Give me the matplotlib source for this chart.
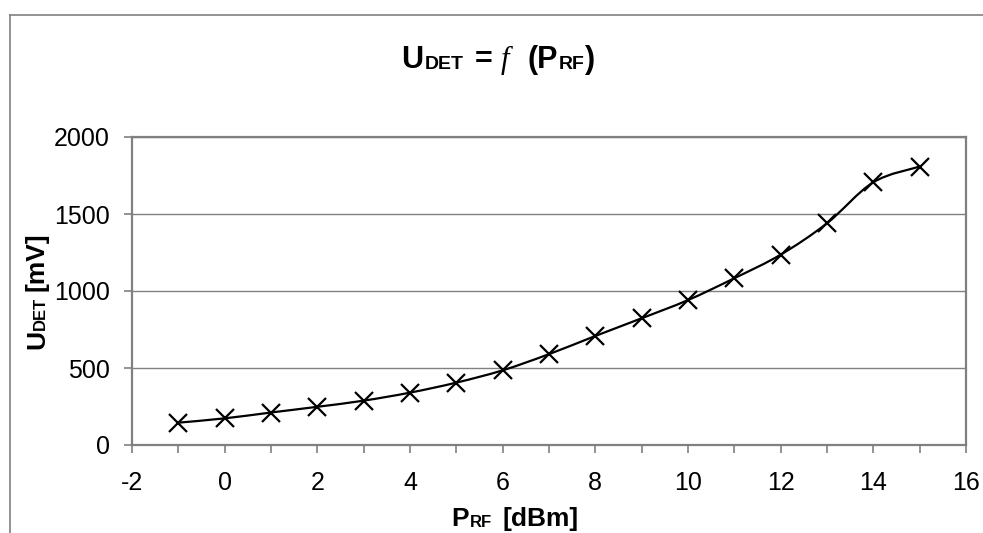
import numpy as np
import matplotlib
matplotlib.use("Agg")
import matplotlib.pyplot as plt
from matplotlib.path import Path
from matplotlib.patches import PathPatch
from matplotlib.transforms import IdentityTransform
from matplotlib.lines import Line2D

plt.rcParams['font.family'] = ['Liberation Sans', 'DejaVu Sans']
plt.rcParams['axes.unicode_minus'] = False

# data
p_rf = [-1, 0, 1, 2, 3, 4, 5, 6, 7, 8, 9, 10, 11, 12, 13, 14, 15]
u_det = [145, 173, 211, 248, 288, 340, 405, 485, 590, 708, 823, 941, 1083, 1236, 1440, 1706, 1808]

x_ticks = [-2, 0, 2, 4, 6, 8, 10, 12, 14, 16]
y_ticks = [0, 500, 1000, 1500, 2000]

W, H = 983, 533
GREY = '#808080'


def smooth_path(xs, ys):
    # Excel-like smoothed line: Catmull-Rom as cubic Bezier segments
    pts = np.column_stack([xs, ys]).astype(float)
    n = len(pts)
    verts = [pts[0]]
    codes = [Path.MOVETO]
    for i in range(n - 1):
        p0 = pts[max(i - 1, 0)]
        p1 = pts[i]
        p2 = pts[i + 1]
        p3 = pts[min(i + 2, n - 1)]
        c1 = p1 + (p2 - p0) / 6.0
        c2 = p2 - (p3 - p1) / 6.0
        verts += [c1, c2, p2]
        codes += [Path.CURVE4] * 3
    return Path(verts, codes)


def rich_text(fig, x, y, parts, rotation=0):
    """parts: (text, props, drop_px, gap_after_px); x, y in pixels from top-left"""
    renderer = fig.canvas.get_renderer()
    widths = []
    for s, props, drop, gap in parts:
        t = fig.text(0, 0, s, transform=IdentityTransform(), **props)
        widths.append(t.get_window_extent(renderer).width)
        t.remove()
    total = sum(widths) + sum(p[3] for p in parts[:-1])
    off = -total / 2.0
    for (s, props, drop, gap), w in zip(parts, widths):
        if rotation == 0:
            px, py = x + off, H - y - drop
        else:
            px, py = x + drop, H - y + off
        fig.text(px, py, s, transform=IdentityTransform(), ha='left', va='baseline',
                 rotation=rotation, rotation_mode='anchor', **props)
        off += w + gap


fig = plt.figure(figsize=(W / 100, H / 100), dpi=100)
ax = fig.add_axes([132 / W, 1 - 445 / H, (966 - 132) / W, (445 - 137) / H])

ax.set_xlim(-2, 16)
ax.set_ylim(0, 2000)
ax.set_xticks(x_ticks)
ax.set_xticks(range(-2, 17), minor=True)
ax.set_yticks(y_ticks)
ax.tick_params(axis='both', which='both', direction='out', length=6, width=1.2,
               color=GREY, labelsize=18, labelcolor='black')
ax.tick_params(axis='x', pad=13)
ax.tick_params(axis='y', pad=10)
ax.grid(axis='y', color=GREY, linewidth=1.0)
ax.set_axisbelow(True)
for sp in ax.spines.values():
    sp.set_color(GREY)
    sp.set_linewidth(1.6)

ax.add_patch(PathPatch(smooth_path(p_rf, u_det), facecolor='none', edgecolor='black',
                       linewidth=1.6, zorder=3))
ax.plot(p_rf, u_det, linestyle='none', marker='x', markersize=13, markeredgewidth=1.6,
        color='black', zorder=4)

# outer chart frame (left and top edges visible)
fig.add_artist(Line2D([9.5 / W, 9.5 / W], [0, 1 - 15 / H], transform=fig.transFigure,
                      color=GREY, linewidth=1.2))
fig.add_artist(Line2D([9.5 / W, 1], [1 - 15 / H, 1 - 15 / H], transform=fig.transFigure,
                      color=GREY, linewidth=1.2))

big = dict(fontsize=22, fontweight='bold')
sub = dict(fontsize=14, fontweight='bold')
ital = dict(fontsize=22, family='Liberation Serif', style='italic')
rich_text(fig, 498, 68, [
    ('U', big, 0, 1),
    ('DET', sub, 1, 12),
    ('=', big, 0, 8),
    ('f', ital, 0, 18),
    ('(P', big, 0, 1),
    ('RF', sub, 1, 0),
    (')', big, 0, 0),
])

lab = dict(fontsize=19, fontweight='bold')
lsub = dict(fontsize=12, fontweight='bold')
rich_text(fig, 44, 291, [
    ('U', lab, 0, 0),
    ('DET', lsub, 1, 6),
    ('[mV]', lab, 0, 0),
], rotation=90)
rich_text(fig, 515, 526, [
    ('P', lab, 0, 1),
    ('RF', lsub, 1, 10),
    ('[dBm]', lab, 0, 0),
])

fig.savefig('out.png', dpi=100)
